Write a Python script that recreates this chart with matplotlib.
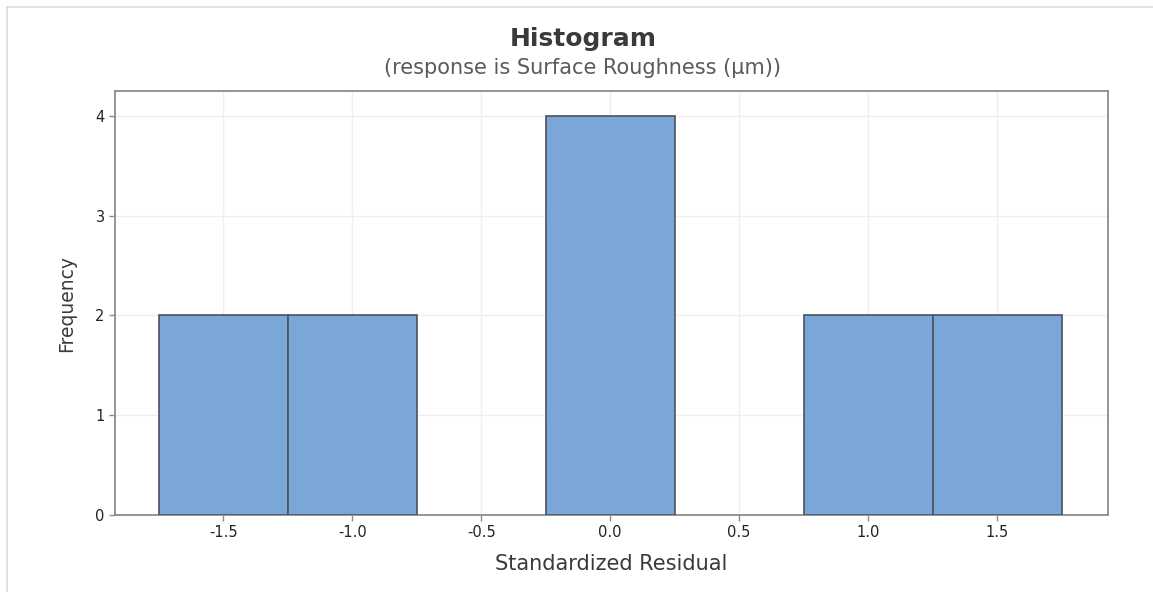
import matplotlib
matplotlib.use("Agg")
import matplotlib.pyplot as plt
from matplotlib.lines import Line2D

plt.rcParams['font.family'] = ['DejaVu Sans']

bin_centers = [-1.5, -1.0, -0.5, 0.0, 0.5, 1.0, 1.5]
frequencies = [2, 2, 0, 4, 0, 2, 2]
bin_width = 0.5
x_ticks = [-1.5, -1.0, -0.5, 0.0, 0.5, 1.0, 1.5]
x_tick_labels = ["-1.5", "-1.0", "-0.5", "0.0", "0.5", "1.0", "1.5"]
y_ticks = [0, 1, 2, 3, 4]

W, H = 1153, 592
fig = plt.figure(figsize=(W / 100, H / 100), dpi=100)
ax = fig.add_axes([115 / W, 1 - 515 / H, (1108 - 115) / W, (515 - 91) / H])

# figure border lines (left and top)
fig.add_artist(Line2D([7 / W, 7 / W], [0, 1 - 7 / H], transform=fig.transFigure, color='#dcdcdc', lw=1.2))
fig.add_artist(Line2D([7 / W, 1], [1 - 7 / H, 1 - 7 / H], transform=fig.transFigure, color='#dcdcdc', lw=1.2))

nz = [(c, f) for c, f in zip(bin_centers, frequencies) if f > 0]
ax.bar([c for c, _ in nz], [f for _, f in nz], width=bin_width, color='#7ba6d8',
       edgecolor='#4a5360', linewidth=1.2, zorder=3)

ax.set_xlim(-1.92, 1.93)
ax.set_ylim(0, 4.25)
ax.set_xticks(x_ticks)
ax.set_xticklabels(x_tick_labels)
ax.set_yticks(y_ticks)
ax.grid(True, color='#efefef', linewidth=1.0, zorder=0)

for s in ax.spines.values():
    s.set_color('#8c8c8c')
    s.set_linewidth(1.3)

ax.tick_params(axis='both', colors='#8c8c8c', labelcolor='#222222', labelsize=10.5, length=4, width=1)

ax.set_xlabel('Standardized Residual', fontsize=15, color='#3a3a3a', labelpad=10)
ax.set_ylabel('Frequency', fontsize=13.5, color='#3a3a3a', labelpad=14)

fig.text(583 / W, 1 - 39 / H, 'Histogram', ha='center', va='center', fontsize=18, fontweight='bold', color='#3a3a3a')
fig.text(583 / W, 1 - 68 / H, '(response is Surface Roughness (µm))', ha='center', va='center', fontsize=15, color='#5a5a5a')

fig.savefig('out.png', dpi=100, facecolor='white')
